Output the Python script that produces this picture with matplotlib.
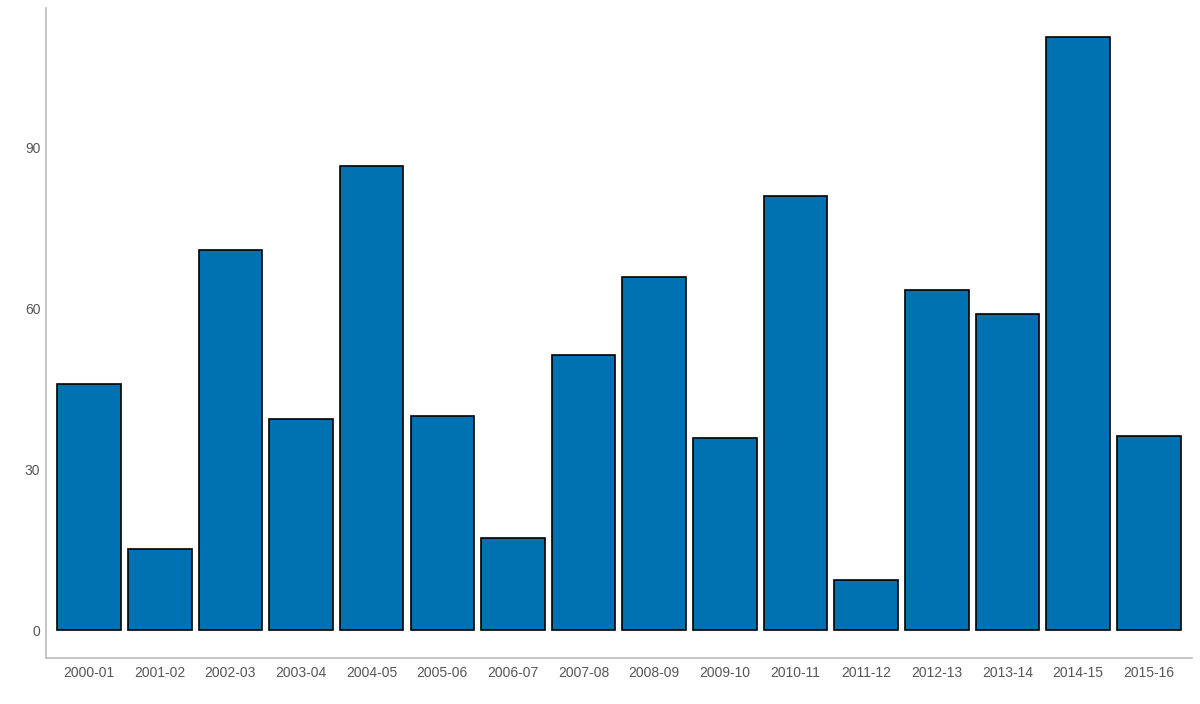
import matplotlib
matplotlib.use("Agg")
import matplotlib.pyplot as plt

plt.rcParams["font.family"] = ["Liberation Sans", "DejaVu Sans"]

seasons = ["2000-01", "2001-02", "2002-03", "2003-04", "2004-05", "2005-06",
           "2006-07", "2007-08", "2008-09", "2009-10", "2010-11", "2011-12",
           "2012-13", "2013-14", "2014-15", "2015-16"]
values = [45.8, 15.1, 70.8, 39.3, 86.5, 39.9, 17.1, 51.2, 65.8, 35.8,
          80.9, 9.3, 63.3, 58.9, 110.5, 36.1]
yticks = [0, 30, 60, 90]

fig = plt.figure(figsize=(12, 7.04), dpi=100)
ax = fig.add_axes([0.0383, 0.0653, 0.955, 0.9233])

x = range(len(seasons))
ax.bar(x, values, width=0.9, color="#0072B2", edgecolor="black", linewidth=1.2)

ax.set_xlim(-0.61, 15.61)
ax.set_ylim(-5.2, 115.9)
ax.set_xticks(list(x))
ax.set_xticklabels(seasons)
ax.set_yticks(yticks)
ax.tick_params(length=0, colors="#555555", labelsize=10)
ax.tick_params(axis="x", pad=5.5)
ax.tick_params(axis="y", pad=4)

for side in ["top", "right"]:
    ax.spines[side].set_visible(False)
for side in ["left", "bottom"]:
    ax.spines[side].set_color("#bbbbbb")
    ax.spines[side].set_linewidth(1.2)

plt.savefig("out.png", dpi=100)
